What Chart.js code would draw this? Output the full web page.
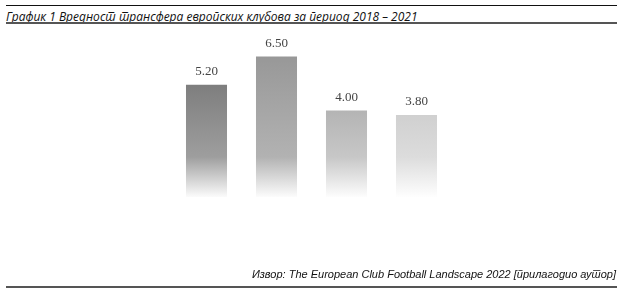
<!DOCTYPE html>
<html lang="sr">
<head>
<meta charset="utf-8">
<script src="https://cdn.jsdelivr.net/npm/chart.js@4"></script>
<style>
html,body{margin:0;padding:0;background:#fff;}
#wrap{position:relative;width:640px;height:304px;overflow:hidden;}
#c{position:absolute;left:0;top:0;}
.rule{position:absolute;left:6px;width:611px;}
#title{position:absolute;left:6px;top:8px;font:italic 12px "Open Sans",sans-serif;color:#111;white-space:nowrap;}
#source{position:absolute;right:24px;top:268px;font:italic 11px "Liberation Sans",Arial,sans-serif;color:#111;white-space:nowrap;}
</style>
</head>
<body>
<div id="wrap">
  <div class="rule" style="top:5px;height:1px;background:#111;"></div>
  <div id="title">График 1 Вредност трансфера европских клубова за период 2018 – 2021</div>
  <div class="rule" style="top:22px;height:2px;background:#555;"></div>
  <canvas id="c" width="640" height="304"></canvas>
  <div id="source">Извор: The European Club Football Landscape 2022 [прилагодио аутор]</div>
  <div class="rule" style="top:286px;height:2px;background:#555;"></div>
</div>
<script>
const categories = ["2018", "2019", "2020", "2021"];
const values = [5.20, 6.50, 4.00, 3.80];
const valueLabels = ["5.20", "6.50", "4.00", "3.80"];
const barColors = [[126,126,126],[152,152,152],[180,180,180],[208,208,208]];

function rgb(a){return 'rgb('+a.map(Math.round).join(',')+')';}
function mix(a,t){return a.map(v=>v+(255-v)*t);}

const labelPlugin = {
  id:'valueLabels',
  afterDatasetsDraw(chart){
    const ctx = chart.ctx;
    const meta = chart.getDatasetMeta(0);
    ctx.save();
    ctx.font = '13px "Liberation Serif", serif';
    ctx.fillStyle = '#444';
    ctx.textAlign = 'center';
    ctx.textBaseline = 'bottom';
    meta.data.forEach((bar,i)=>{
      ctx.fillText(valueLabels[i], bar.x, bar.y - 7);
    });
    ctx.restore();
  }
};

new Chart(document.getElementById('c'), {
  type:'bar',
  data:{
    labels:categories,
    datasets:[{
      data:values,
      borderWidth:0,
      categoryPercentage:1,
      barPercentage:0.586,
      backgroundColor:(context)=>{
        const chart = context.chart;
        const c = barColors[context.dataIndex % barColors.length];
        const area = chart.chartArea;
        if(!area || !chart.scales.y) return rgb(c);
        const top = chart.scales.y.getPixelForValue(values[context.dataIndex]);
        const bottom = chart.scales.y.getPixelForValue(0);
        const g = chart.ctx.createLinearGradient(0, top, 0, bottom);
        const h = bottom - top;
        g.addColorStop(0, rgb(c));
        g.addColorStop(Math.max(0, 1 - 40/h), rgb(mix(c,0.25)));
        g.addColorStop(1, rgb(mix(c,0.97)));
        return g;
      }
    }]
  },
  options:{
    responsive:false,
    animation:false,
    devicePixelRatio:1,
    layout:{padding:{left:171.5,right:188.5,top:24.2,bottom:107}},
    plugins:{legend:{display:false},tooltip:{enabled:false},title:{display:false}},
    scales:{
      x:{display:false},
      y:{display:false,min:0,max:8}
    }
  },
  plugins:[labelPlugin]
});
</script>
</body>
</html>
